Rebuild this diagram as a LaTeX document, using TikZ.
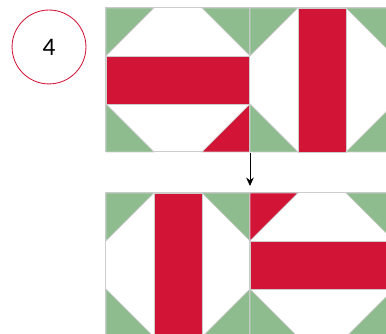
\documentclass[tikz,border=0pt]{standalone}
\usepackage{fontspec}
\newfontfamily\numfont{Carlito}
\usetikzlibrary{arrows.meta}
\definecolor{qgreen}{RGB}{143,188,143}
\definecolor{qred}{RGB}{210,21,55}
\definecolor{qline}{RGB}{205,205,205}
\begin{document}
\begin{tikzpicture}[x=1cm,y=1cm,
   blk/.style={fill=white,draw=qline,line width=0.6pt},
   grn/.style={fill=qgreen,draw=qline,line width=0.4pt},
   rd/.style={fill=qred,draw=qline,line width=0.4pt}]
  \useasboundingbox (0,0) rectangle (8.042,6.958);
  \clip (0,0) rectangle (8.042,6.958);
  % step number
  \node[circle,draw=qred,line width=0.5pt,minimum size=1.54cm,inner sep=0pt,
    font=\numfont\fontsize{15}{18}\selectfont] (num) at (1.021,5.979) {4};
  % top left block: horizontal bar, red corner bottom right
  \begin{scope}[shift={(2.208,3.792)}]
    \filldraw[blk] (0,0) rectangle (3,3);
    \filldraw[rd] (0,1) rectangle (3,2);
    \filldraw[grn] (0,3) -- (1,3) -- (0,2) -- cycle;
    \filldraw[grn] (2,3) -- (3,3) -- (3,2) -- cycle;
    \filldraw[grn] (0,1) -- (0,0) -- (1,0) -- cycle;
    \filldraw[rd] (3,1) -- (3,0) -- (2,0) -- cycle;
  \end{scope}
  % top right block: vertical bar
  \begin{scope}[shift={(5.208,3.792)}]
    \filldraw[blk] (0,0) rectangle (3,3);
    \filldraw[rd] (1,0) rectangle (2,3);
    \filldraw[grn] (0,3) -- (1,3) -- (0,2) -- cycle;
    \filldraw[grn] (0,1) -- (0,0) -- (1,0) -- cycle;
    \filldraw[grn] (2,3) -- (3,3) -- (3,2) -- cycle;
    \filldraw[grn] (2,0) -- (3,0) -- (3,1) -- cycle;
  \end{scope}
  % bottom left block: vertical bar
  \begin{scope}[shift={(2.208,-0.0625)}]
    \filldraw[blk] (0,0) rectangle (3,3);
    \filldraw[rd] (1,0) rectangle (2,3);
    \filldraw[grn] (0,3) -- (1,3) -- (0,2) -- cycle;
    \filldraw[grn] (0,1) -- (0,0) -- (1,0) -- cycle;
    \filldraw[grn] (2,3) -- (3,3) -- (3,2) -- cycle;
    \filldraw[grn] (2,0) -- (3,0) -- (3,1) -- cycle;
  \end{scope}
  % bottom right block: horizontal bar, red corner top left
  \begin{scope}[shift={(5.208,-0.0625)}]
    \filldraw[blk] (0,0) rectangle (3,3);
    \filldraw[rd] (0,1) rectangle (3,2);
    \filldraw[rd] (0,3) -- (1,3) -- (0,2) -- cycle;
    \filldraw[grn] (2,3) -- (3,3) -- (3,2) -- cycle;
    \filldraw[grn] (0,1) -- (0,0) -- (1,0) -- cycle;
    \filldraw[grn] (3,1) -- (3,0) -- (2,0) -- cycle;
  \end{scope}
  % turn arrow
  \coordinate (top) at (5.208,3.77);
  \coordinate (bot) at (5.208,3.083);
  \draw[-{Stealth[length=5pt,width=4.5pt]},line width=0.5pt] (top) -- (bot);
\end{tikzpicture}
\end{document}
